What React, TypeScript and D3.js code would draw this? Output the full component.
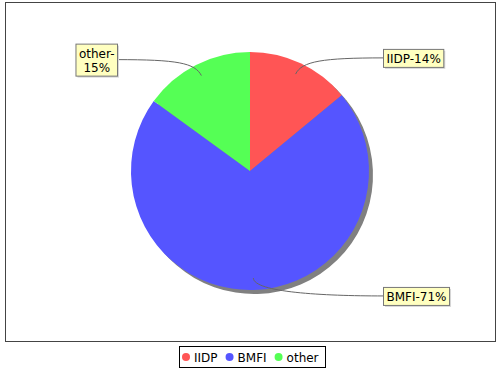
import React from "react";
import * as d3 from "d3";

const categories = ["IIDP", "BMFI", "other"];
const values = [14, 71, 15];
const percentLabels = ["14%", "71%", "15%"];
const colors = ["#FF5555", "#5555FF", "#55FF55"];

const W = 500;
const H = 370;
const FONT = "DejaVu Sans, Verdana, sans-serif";

function measure(text: string, size = 12): number {
  if (typeof document === "undefined") return text.length * size * 0.6;
  const c = document.createElement("canvas").getContext("2d");
  if (!c) return text.length * size * 0.6;
  c.font = `${size}px "DejaVu Sans"`;
  return c.measureText(text).width;
}

export default function App() {
  const cx = 250;
  const cy = 171;
  const r = 119;

  const pie = d3
    .pie<number>()
    .sort(null)
    .value((d) => d)
    .startAngle(0)
    .endAngle(2 * Math.PI);
  const arcs = pie(values);
  const arcGen = d3.arc<d3.PieArcDatum<number>>().innerRadius(0).outerRadius(r);

  // legend layout
  const legendItems: { cxCircle: number; tx: number; label: string; color: string }[] = [];
  let lx = 186;
  categories.forEach((c, i) => {
    legendItems.push({ cxCircle: lx, tx: lx + 8, label: c, color: colors[i] });
    lx = lx + 8 + measure(c) + 12;
  });
  const legendRight = Math.min(
    325,
    legendItems[legendItems.length - 1].tx + measure(categories[categories.length - 1]) + 10
  );

  return (
    <svg width={W} height={H} style={{ position: "absolute", left: 0, top: 0 }}>
      <rect x={0} y={0} width={W} height={H} fill="#fff" />
      <rect x={5.5} y={2.5} width={490} height={339} fill="#fff" stroke="#444" strokeWidth={1} />
      {/* shadow */}
      <g transform={`translate(${cx + 4},${cy + 4})`}>
        {arcs.map((a, i) => (
          <path key={i} d={arcGen(a) || ""} fill="#808080" />
        ))}
      </g>
      <g transform={`translate(${cx},${cy})`}>
        {arcs.map((a, i) => (
          <path key={i} d={arcGen(a) || ""} fill={colors[i]} />
        ))}
      </g>
      {/* labels */}
      {arcs.map((a, i) => {
        const mid = (a.startAngle + a.endAngle) / 2;
        const sx = Math.sin(mid);
        const sy = -Math.cos(mid);
        const ax = cx + sx * 0.9 * r;
        const ay = cy + sy * 0.9 * r;
        const ly = cy + sy * 125;
        const right = sx >= 0;
        const text = `${categories[i]}-${percentLabels[i]}`;
        const lines = right ? [text] : [`${categories[i]}-`, percentLabels[i]];
        const tw = Math.max(...lines.map((l) => measure(l)));
        const bw = tw + 6;
        const bh = lines.length * 14 + 4;
        const bx = right ? 383 : 117 - bw;
        const by = ly - bh / 2;
        const tX = right ? bx : bx + bw;
        const ex = cx + sx * 1.02 * r;
        const ey = cy + sy * 1.02 * r;
        const c2x = right ? tX - 60 : tX + 60;
        const path = `M${ax},${ay} C${ex},${ey} ${c2x},${ly} ${tX},${ly}`;
        return (
          <g key={i}>
            <path d={path} fill="none" stroke="#666" strokeWidth={1} />
            <rect x={bx + 2} y={by + 2} width={bw} height={bh} fill="#d8d8d8" />
            <rect x={bx + 0.5} y={by + 0.5} width={bw} height={bh} fill="#FFFFC0" stroke="#777" strokeWidth={1} />
            {lines.map((l, j) => (
              <text
                key={j}
                x={bx + bw / 2 + 0.5}
                y={by + 14 + j * 14}
                textAnchor="middle"
                fontFamily={FONT}
                fontSize={12}
                fill="#000"
              >
                {l}
              </text>
            ))}
          </g>
        );
      })}
      {/* legend */}
      <rect x={179.5} y={346.5} width={legendRight - 179} height={21} fill="#fff" stroke="#000" strokeWidth={1} />
      {legendItems.map((it, i) => (
        <g key={i}>
          <circle cx={it.cxCircle} cy={357} r={4} fill={it.color} />
          <text x={it.tx} y={361.5} fontFamily={FONT} fontSize={12} fill="#000">
            {it.label}
          </text>
        </g>
      ))}
    </svg>
  );
}
